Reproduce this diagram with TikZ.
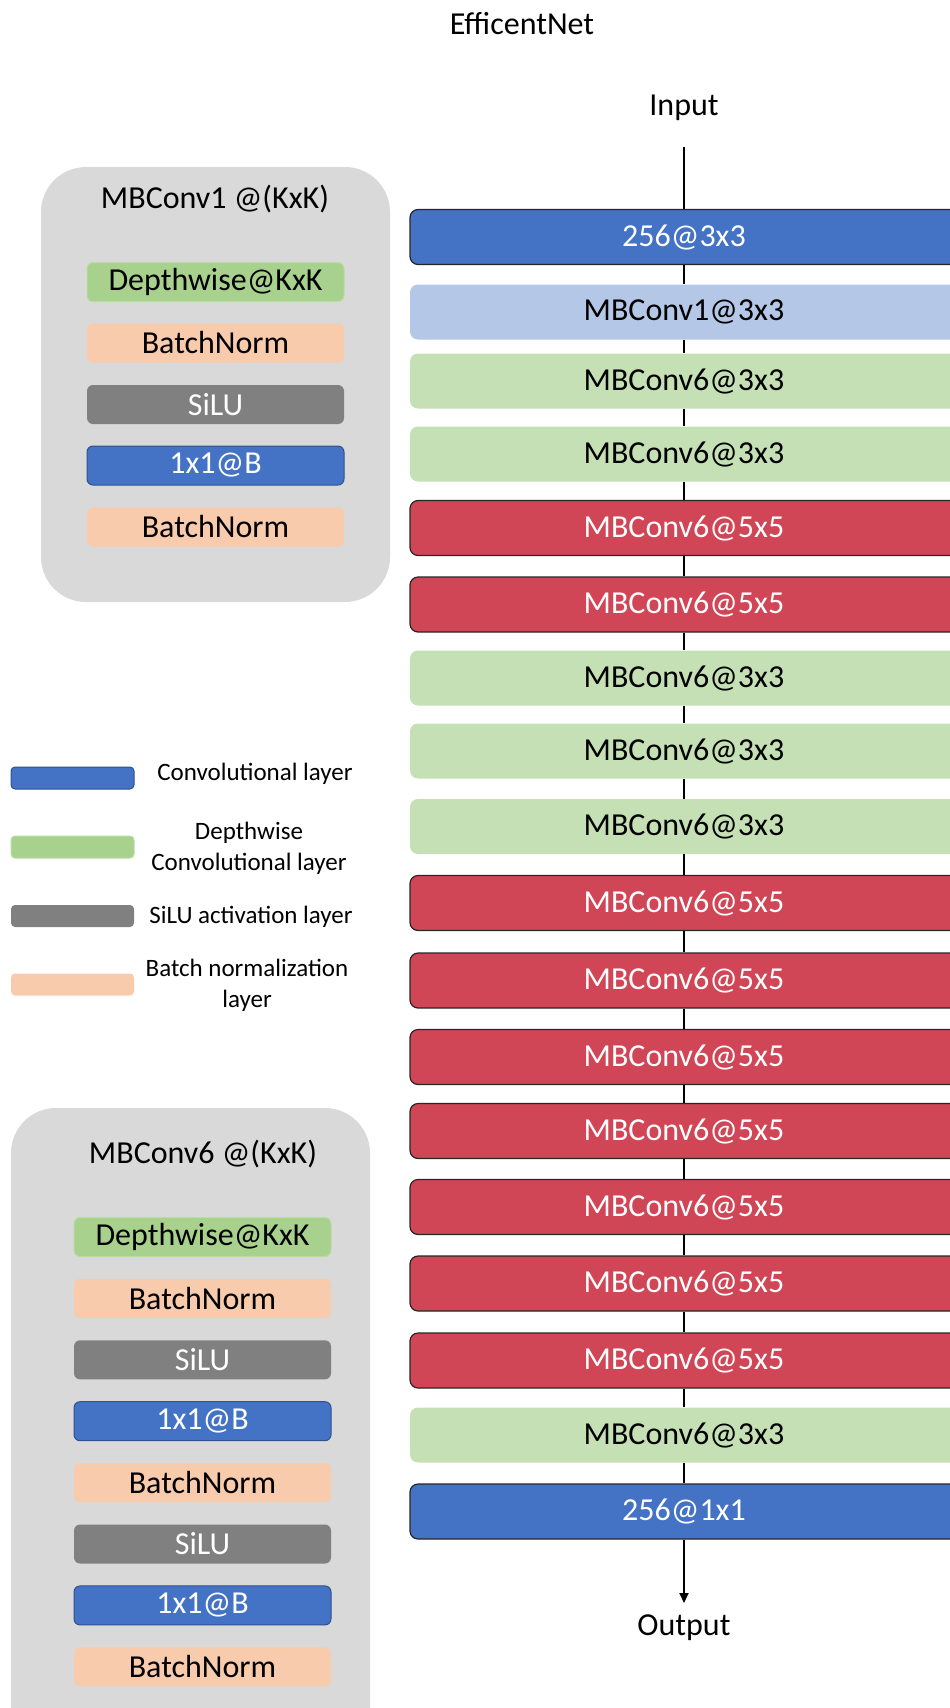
\documentclass[tikz,border=0pt]{standalone}
\usepackage{fontspec}
\setmainfont{Carlito}
\usetikzlibrary{arrows.meta}
\definecolor{convblue}{HTML}{4472C4}
\definecolor{convborder}{HTML}{2F528F}
\definecolor{mbonebl}{HTML}{B4C7E7}
\definecolor{mbgreen}{HTML}{C5E0B4}
\definecolor{mbred}{HTML}{D04656}
\definecolor{dwgreen}{HTML}{A9D18E}
\definecolor{dwborder}{HTML}{B9DCA2}
\definecolor{bnpeach}{HTML}{F8CBAD}
\definecolor{silugray}{HTML}{808080}
\definecolor{panelgray}{HTML}{D9D9D9}
\begin{document}
\begin{tikzpicture}[x=1pt,y=-1pt,
  mainbox/.style={rounded corners=8pt, minimum width=548pt, minimum height=55pt, inner sep=0pt, font=\fontsize{32}{38}\selectfont},
  convbox/.style={mainbox, fill=convblue, draw=black!85, line width=1.2pt, text=white},
  mbonebox/.style={mainbox, fill=mbonebl, text=black},
  mbsixbox/.style={mainbox, fill=mbgreen, text=black},
  mbfivebox/.style={mainbox, fill=mbred, draw=black!85, line width=1.2pt, text=white},
  subbox/.style={rounded corners=6pt, minimum width=257pt, minimum height=39pt, inner sep=0pt, font=\fontsize{32}{38}\selectfont},
  subdw/.style={subbox, fill=dwgreen, draw=dwborder, line width=1pt, text=black},
  subbn/.style={subbox, fill=bnpeach, text=black},
  subsilu/.style={subbox, fill=silugray, text=white},
  subconv/.style={subbox, fill=convblue, draw=convborder, line width=1pt, text=white},
  panel/.style={fill=panelgray, rounded corners=45pt},
  paneltitle/.style={font=\fontsize{32}{38}\selectfont, inner sep=0pt},
  legbox/.style={rounded corners=4pt, minimum width=123pt, minimum height=22pt, inner sep=0pt},
  legtext/.style={font=\fontsize{25}{31}\selectfont, align=center, inner sep=0pt},
  plaintext/.style={font=\fontsize{32}{38}\selectfont, inner sep=0pt},
  flow/.style={line width=2pt, black}
]
\useasboundingbox (0,0) rectangle (950,1708);
\clip (0,0) rectangle (950,1708);

% title
\node[plaintext] (title) at (522,24) {EfficentNet};
\node[plaintext] (input) at (684,108) {Input};
\node[plaintext] (output) at (684,1628) {Output};

% panel 1
\path[panel] (41,167) rectangle (390,602);
\node[paneltitle] (p1title) at (215,199) {MBConv1 @(KxK)};
\node[subdw]   (p1a) at (215.5,282) {Depthwise@KxK};
\node[subbn]   (p1b) at (215.5,343) {BatchNorm};
\node[subsilu] (p1c) at (215.5,404.5) {SiLU};
\node[subconv] (p1d) at (215.5,465.5) {1x1@B};
\node[subbn]   (p1e) at (215.5,527) {BatchNorm};

% legend
\node[legbox, fill=convblue, draw=convborder, line width=1pt] (l1) at (72.5,778) {};
\node[legtext] (l1t) at (255,774) {Convolutional layer};
\node[legbox, fill=dwgreen, draw=dwborder, line width=1pt] (l2) at (72.5,847) {};
\node[legtext] (l2t) at (249,848) {Depthwise\\Convolutional layer};
\node[legbox, fill=silugray] (l3) at (72.5,916) {};
\node[legtext] (l3t) at (251,917) {SiLU activation layer};
\node[legbox, fill=bnpeach] (l4) at (72.5,984.5) {};
\node[legtext] (l4t) at (247,985) {Batch normalization\\layer};

% panel 2
\path[panel] (11,1108) rectangle (370,1760);
\node[paneltitle] (p2title) at (203,1154) {MBConv6 @(KxK)};
\node[subdw]   (p2a) at (202.5,1237) {Depthwise@KxK};
\node[subbn]   (p2b) at (202.5,1298.4) {BatchNorm};
\node[subsilu] (p2c) at (202.5,1359.8) {SiLU};
\node[subconv] (p2d) at (202.5,1421.2) {1x1@B};
\node[subbn]   (p2e) at (202.5,1482.6) {BatchNorm};
\node[subsilu] (p2f) at (202.5,1544) {SiLU};
\node[subconv] (p2g) at (202.5,1605.4) {1x1@B};
\node[subbn]   (p2h) at (202.5,1666.8) {BatchNorm};

% main column
\foreach \i/\y/\s/\t in {
  1/237/convbox/256@3x3,
  2/312/mbonebox/MBConv1@3x3,
  3/381/mbsixbox/MBConv6@3x3,
  4/454/mbsixbox/MBConv6@3x3,
  5/528/mbfivebox/MBConv6@5x5,
  6/604.5/mbfivebox/MBConv6@5x5,
  7/678/mbsixbox/MBConv6@3x3,
  8/751/mbsixbox/MBConv6@3x3,
  9/826.5/mbsixbox/MBConv6@3x3,
  10/903/mbfivebox/MBConv6@5x5,
  11/980.5/mbfivebox/MBConv6@5x5,
  12/1057/mbfivebox/MBConv6@5x5,
  13/1131/mbfivebox/MBConv6@5x5,
  14/1207/mbfivebox/MBConv6@5x5,
  15/1283.5/mbfivebox/MBConv6@5x5,
  16/1360.5/mbfivebox/MBConv6@5x5,
  17/1435/mbsixbox/MBConv6@3x3,
  18/1511.5/convbox/256@1x1}
  \node[\s] (b\i) at (684,\y) {\t};

\coordinate (intop) at (684,147);
\coordinate (outend) at (684,1603);
\draw[flow] (intop) -- (b1);
\foreach \i in {1,...,17}{
  \pgfmathtruncatemacro\j{\i+1}
  \draw[flow] (b\i) -- (b\j);
}
\draw[flow, -{Triangle[length=10pt,width=9pt]}] (b18) -- (outend);
\end{tikzpicture}
\end{document}
